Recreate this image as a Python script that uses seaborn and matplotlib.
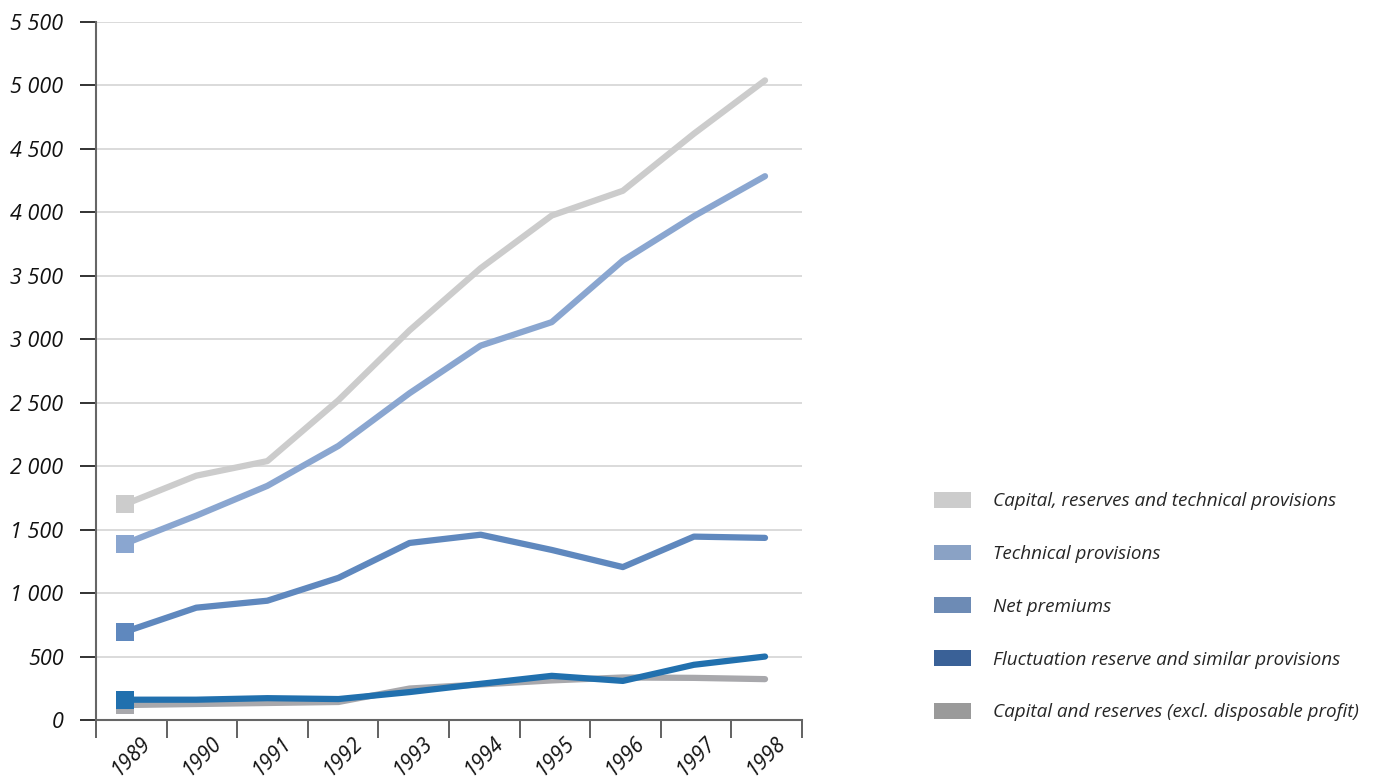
import pandas as pd
import numpy as np
import matplotlib
matplotlib.use("Agg")
import matplotlib.pyplot as plt
from matplotlib.patches import Patch
import seaborn as sns

# data
years = ["1989", "1990", "1991", "1992", "1993", "1994", "1995", "1996", "1997", "1998"]
cap_res_tech = [1700, 1925, 2040, 2520, 3070, 3560, 3975, 4170, 4620, 5040]
tech_prov = [1390, 1610, 1845, 2160, 2575, 2950, 3135, 3620, 3970, 4285]
net_premiums = [695, 885, 940, 1120, 1395, 1460, 1340, 1205, 1445, 1435]
fluct_reserve = [160, 160, 172, 165, 220, 285, 348, 308, 435, 500]
cap_reserves = [118, 126, 134, 142, 248, 280, 312, 335, 332, 322]

names = ["Capital, reserves and technical provisions",
         "Technical provisions",
         "Net premiums",
         "Fluctuation reserve and similar provisions",
         "Capital and reserves (excl. disposable profit)"]
line_colors = ["#cccccc", "#8aa6d0", "#5f88be", "#2170ae", "#a8a8ac"]
legend_colors = ["#cccccc", "#8aa2c5", "#6d8bb5", "#3a6197", "#9a9a9a"]
series = [cap_res_tech, tech_prov, net_premiums, fluct_reserve, cap_reserves]

rows = []
for n, vals in zip(names, series):
    for i, v in enumerate(vals):
        rows.append({"x": i, "year": years[i], "value": v, "series": n})
df = pd.DataFrame(rows)

sns.set_style("white")
plt.rcParams['font.family'] = ['Open Sans', 'DejaVu Sans']

fig = plt.figure(figsize=(13.75, 7.81), dpi=100)
ax = fig.add_axes([96 / 1375, 1 - 720 / 781, (802 - 96) / 1375, (720 - 22) / 781])

# draw order: light ones first, fluctuation reserve on top
order = [0, 1, 2, 4, 3]
for z, k in enumerate(order):
    sub = df[df["series"] == names[k]]
    sns.lineplot(data=sub, x="x", y="value", color=line_colors[k], linewidth=4.5,
                 ax=ax, legend=False, zorder=3 + z)
    first = sub.iloc[:1]
    sns.scatterplot(data=first, x="x", y="value", color=line_colors[k], marker="s",
                    s=165, linewidth=0, ax=ax, legend=False, zorder=3 + z)

# points sit a little left of the category centres in the original
x0, x1 = -0.41, len(years) - 0.48
ax.set_xlim(x0, x1)
ax.set_ylim(0, 5500)
ax.set_xlabel("")
ax.set_ylabel("")

yt = np.arange(0, 5501, 500)
ax.set_yticks(yt)
ax.set_yticklabels(["{:,}".format(v).replace(",", " ") for v in yt],
                   fontsize=15.5, style="italic", color="#111111")
ax.yaxis.grid(True, color="#d4d4d4", linewidth=1.2)
ax.set_axisbelow(True)

# ticks on category boundaries, labels between them
bounds = np.linspace(x0, x1, len(years) + 1)
ax.set_xticks(bounds)
ax.set_xticklabels([])
ax.set_xticks((bounds[:-1] + bounds[1:]) / 2, minor=True)
ax.set_xticklabels(years, minor=True, rotation=45, fontsize=15, style="italic",
                   ha="center", va="top", color="#111111")
ax.tick_params(axis="x", which="major", bottom=True, length=13, width=1.3,
               color="#555555", direction="out")
ax.tick_params(axis="x", which="minor", bottom=True, length=0, pad=9)
ax.tick_params(axis="y", left=True, length=11.5, width=1.3, color="#222222",
               direction="out", pad=12)

sns.despine(ax=ax, top=True, right=True)
ax.spines["left"].set_color("#666666")
ax.spines["left"].set_linewidth(1.5)
ax.spines["bottom"].set_color("#666666")
ax.spines["bottom"].set_linewidth(1.5)

handles = [Patch(facecolor=c, edgecolor="none", label=n) for c, n in zip(legend_colors, names)]
fig.legend(handles=handles, loc="upper left", bbox_to_anchor=(917 / 1375, 1 - 475 / 781),
           frameon=False, handlelength=1.95, handleheight=0.9, handletextpad=1.15,
           labelspacing=1.82, prop={"size": 13.6, "style": "italic"})

fig.savefig("out.png", dpi=100)
